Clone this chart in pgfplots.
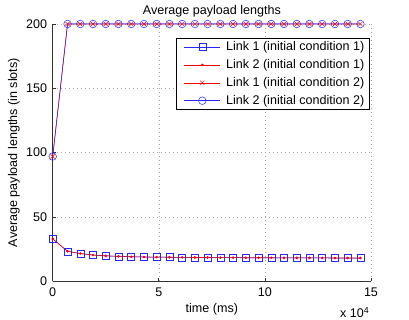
\documentclass[border=0pt]{standalone}
\usepackage{pgfplots}
\pgfplotsset{compat=1.18}
\usepackage{pgfplotstable}
\usepackage{fontspec}
\setmainfont{Liberation Sans}
\usetikzlibrary{calc}

\definecolor{mblue}{rgb}{0.15,0.15,1}
\definecolor{mred}{rgb}{1,0,0}

% initial condition 1
\pgfplotstableread{
x      linkA  linkB
0      33.0   33.0
7000   23.3   23.3
13000  21.6   21.6
19000  20.4   20.4
25000  19.8   19.8
31000  19.4   19.4
37000  19.1   19.1
43000  18.9   18.9
49000  18.8   18.8
55000  18.7   18.7
61000  18.6   18.6
67000  18.5   18.5
73000  18.5   18.5
79000  18.4   18.4
85000  18.4   18.4
91000  18.3   18.3
97000  18.3   18.3
103000 18.3   18.3
109000 18.2   18.2
115000 18.2   18.2
121000 18.2   18.2
127000 18.2   18.2
133000 18.1   18.1
139000 18.1   18.1
145000 18.1   18.1
}\icone

% initial condition 2
\pgfplotstableread{
x      linkA  linkB
0      97.0   97.0
7000   200    200
13000  200    200
19000  200    200
25000  200    200
31000  200    200
37000  200    200
43000  200    200
49000  200    200
55000  200    200
61000  200    200
67000  200    200
73000  200    200
79000  200    200
85000  200    200
91000  200    200
97000  200    200
103000 200    200
109000 200    200
115000 200    200
121000 200    200
127000 200    200
133000 200    200
139000 200    200
145000 200    200
}\ictwo

\begin{document}
\begin{tikzpicture}[font=\fontsize{12.6}{15}\selectfont]
\begin{axis}[
    scale only axis,
    width=318.3bp, height=257.3bp,
    xmin=0, xmax=150000, ymin=0, ymax=200,
    xtick={0,50000,100000,150000},
    ytick={0,50,100,150,200},
    scaled x ticks=base 10:-4,
    xtick scale label code/.code={x 10\textsuperscript{4}},
    every x tick scale label/.style={at={(rel axis cs:1,0)}, anchor=north east,
        inner sep=0pt, xshift=-1.5bp, yshift=-19.5bp},
    /pgf/number format/assume math mode=true,
    axis lines=left,
    axis line style={-, black!80, line width=0.6bp},
    tick align=inside,
    major tick length=3bp,
    tick style={black!80, line width=0.6bp},
    xticklabel style={inner sep=0pt, yshift=-6bp},
    yticklabel style={inner sep=0pt, xshift=-5.5bp},
    grid=major,
    grid style={dash pattern=on 1bp off 3bp, line width=0.5bp, gray!70},
    title={Average payload lengths},
    title style={at={(axis description cs:0.5,1)}, anchor=south, inner sep=0pt, yshift=1bp},
    xlabel={time (ms)},
    xlabel style={at={(axis description cs:0.5,0)}, anchor=center, inner sep=0pt, yshift=-28bp},
    ylabel={Average payload lengths (in slots)},
    ylabel style={at={([xshift=-38.7bp]axis description cs:0,0.5)}, anchor=center, inner sep=0pt},
    clip=false,
    legend style={at={(rel axis cs:1,1)}, anchor=north east, xshift=-2bp, yshift=-14bp,
        draw=black, line width=0.5bp, fill=white,
        inner xsep=3bp, inner ysep=2bp, row sep=4.3bp, column sep=4bp,
        nodes={inner sep=1.5bp}, cells={anchor=west}},
    legend image code/.code={
        \path (0bp,0bp);
        \draw[mark repeat=2, mark phase=2] plot coordinates {(4.5bp,0bp) (22.5bp,0bp) (40.5bp,0bp)};
    },
]
\addplot[mblue, line width=0.5bp, mark=square, mark size=3.5bp, mark options={line width=0.5bp}]
    table[x=x, y=linkA] {\icone};
\addlegendentry{Link 1 (initial condition 1)}
\addplot[mred, line width=0.6bp, mark=*, mark size=1bp]
    table[x=x, y=linkB] {\icone};
\addlegendentry{Link 2 (initial condition 1)}
\addplot[mred, line width=0.6bp, mark=x, mark size=3bp, mark options={line width=0.5bp}]
    table[x=x, y=linkA] {\ictwo};
\addlegendentry{Link 1 (initial condition 2)}
\addplot[mblue, line width=0.5bp, mark=o, mark size=3.8bp, mark options={line width=0.5bp}]
    table[x=x, y=linkB] {\ictwo};
\addlegendentry{Link 2 (initial condition 2)}
\end{axis}
\pgfresetboundingbox
\path ($(current axis.south west)+(-52.7bp,-38.7bp)$) rectangle ($(current axis.north east)+(38bp,24bp)$);
\end{tikzpicture}
\end{document}
